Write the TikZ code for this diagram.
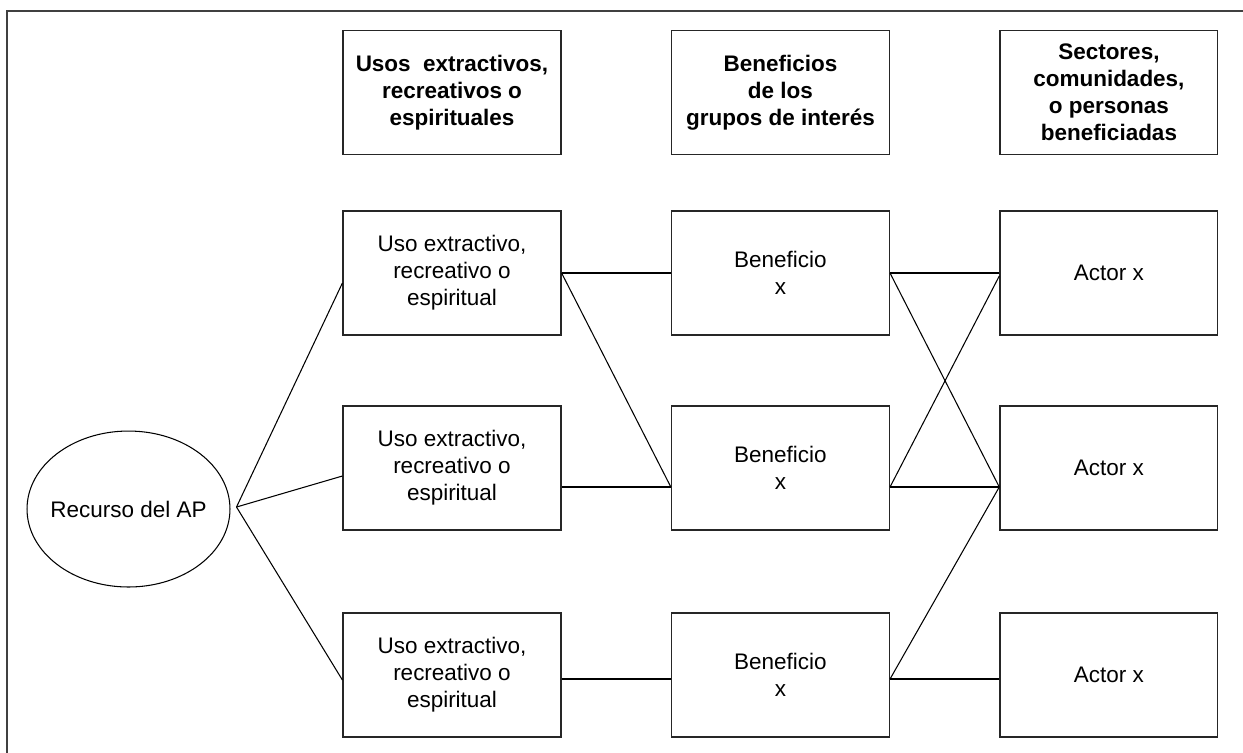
\documentclass[tikz,border=0pt]{standalone}
\usepackage{fontspec}
\setmainfont{Liberation Sans}
\usetikzlibrary{positioning,shapes.geometric}

\begin{document}
\begin{tikzpicture}[x=0.02cm,y=-0.02cm,node distance=6.57cm,
  box/.style={draw=black!85,line width=0.7pt,rectangle,minimum width=4.36cm,minimum height=2.48cm,
    inner sep=0pt,align=center,font=\fontsize{12.8}{15.4}\selectfont},
  head/.style={box,font=\fontsize{12.8}{15.4}\selectfont\bfseries},
  link/.style={line width=0.6pt}]

\useasboundingbox (0,0) rectangle (1243,752);
\draw[black!75,line width=1pt] (1260,11) -- (7,11) -- (7,770);

% column headers
\node[head] (h1) at (452,92.5) {Usos~ extractivos,\\recreativos o\\espirituales};
 \node[head] (h2) [right of=h1] {Beneficios\\de los\\grupos de interés};
\node[head] (h3) [right of=h2] {Sectores,\\comunidades,\\o personas\\beneficiadas};

% resource
\node[ellipse,draw,line width=0.6pt,minimum width=4.06cm,minimum height=3.12cm,inner ysep=0pt,inner xsep=-0.25cm,
  font=\fontsize{12.8}{15.4}\selectfont] (rec) at (128.5,509) {Recurso del AP};
\coordinate (hub) at ([xshift=0.12cm,yshift=0.04cm]rec.east);

% rows
\node[box] (u1) at (452,273) {Uso extractivo,\\recreativo o\\espiritual};
	\node[box] (b1) [right of=u1] {Beneficio\\x};
\node[box] (a1) [right of=b1] {Actor x};

\node[box] (u2) at (452,468) {Uso extractivo,\\recreativo o\\espiritual};
	\node[box] (b2) [right of=u2] {Beneficio\\x};
\node[box] (a2) [right of=b2] {Actor x};

\node[box] (u3) at (452,675) {Uso extractivo,\\recreativo o\\espiritual};
	\node[box] (b3) [right of=u3] {Beneficio\\x};
\node[box] (a3) [right of=b3] {Actor x};

\path[link] (hub) edge ([yshift=-0.2cm]u1.west)
                  edge ([yshift=-0.16cm]u2.west)
                  edge ([yshift=-0.1cm]u3.west)
        (u1.east) edge (b1.west)
                  edge ([yshift=-0.38cm]b2.west)
        ([yshift=-0.38cm]u2.east) edge ([yshift=-0.38cm]b2.west)
        ([yshift=-0.08cm]u3.east) edge ([yshift=-0.08cm]b3.west)
        (b1.east) edge (a1.west)
                  edge ([yshift=-0.38cm]a2.west)
        ([yshift=-0.38cm]b2.east) edge ([yshift=-0.06cm]a1.west)
                  edge ([yshift=-0.38cm]a2.west)
        ([yshift=-0.08cm]b3.east) edge ([yshift=-0.38cm]a2.west)
                  edge ([yshift=-0.08cm]a3.west);

\end{tikzpicture}
\end{document}
